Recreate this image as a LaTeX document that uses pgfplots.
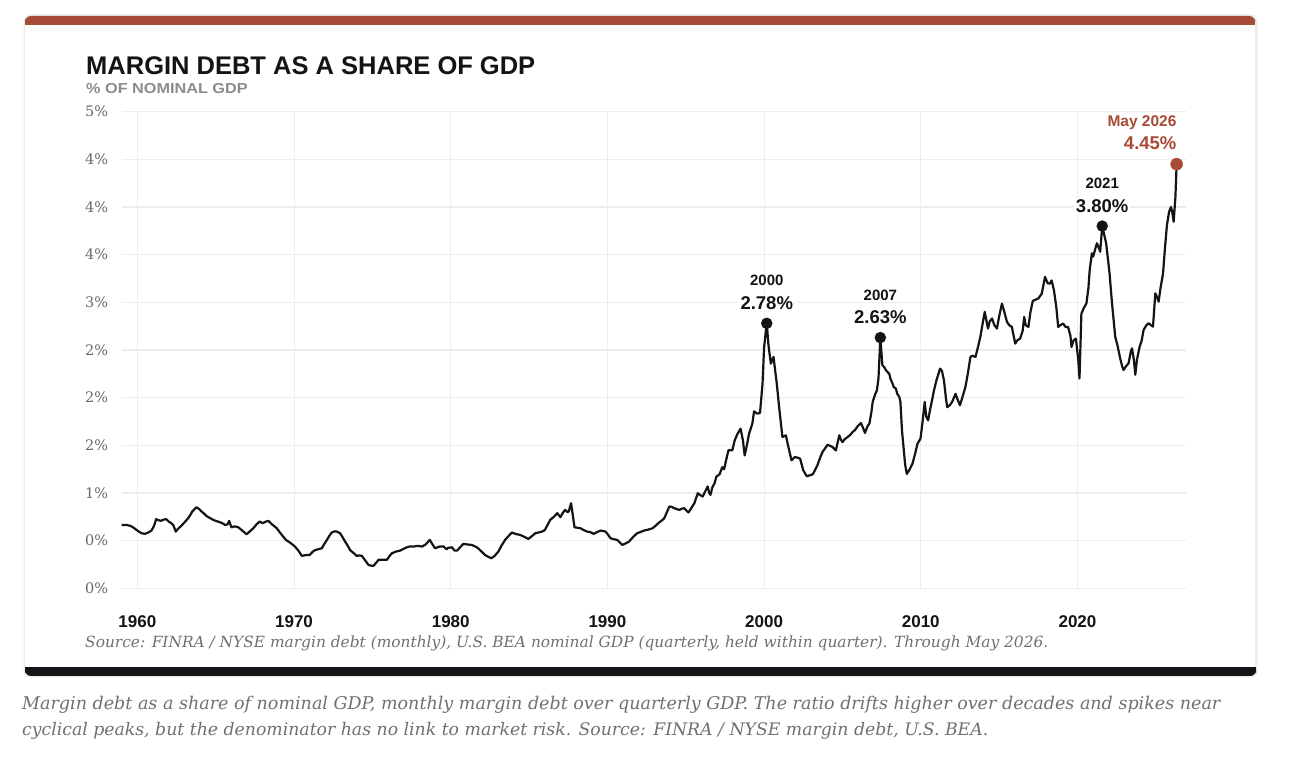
\documentclass[border=0pt]{standalone}
\usepackage{fontspec}
\usepackage{graphicx}
\usepackage{pgfplots}
\pgfplotsset{compat=1.18}
\setmainfont{Liberation Sans}
\newfontfamily\seriffont{DejaVu Serif}

\definecolor{rust}{HTML}{A84B36}
\definecolor{ink}{HTML}{141414}
\definecolor{gridc}{HTML}{EDEDED}
\definecolor{tickc}{HTML}{6A6A6A}
\definecolor{subc}{HTML}{8C8C8C}
\definecolor{capc}{HTML}{707070}
\definecolor{bandc}{HTML}{121418}

\begin{document}
\begin{tikzpicture}[x=1pt,y=1pt]
% page and card
\fill[white] (0,0) rectangle (1300,768);
\fill[black!7, rounded corners=7pt] (23.5,90.5) rectangle (1257.5,753.5);
\fill[white] (25,100) rectangle (1255,745);
\fill[rust, rounded corners=6pt] (25,743) rectangle (1255,752);
\fill[rust] (25,743) rectangle (1255,747);
\fill[bandc, rounded corners=6pt] (25,92) rectangle (1256,100.5);
\fill[bandc] (25,96) rectangle (1256,100.5);

% headings
\node[anchor=base west, inner sep=0, font=\bfseries\fontsize{25.5}{25.5}\selectfont, text=ink] at (86,693.5) {MARGIN DEBT AS A SHARE OF GDP};
\node[anchor=base west, inner sep=0, font=\bfseries\fontsize{14.5}{14.5}\selectfont, text=subc] at (86,674.5) {\scalebox{1.12}[1]{\% OF NOMINAL GDP}};

\begin{axis}[
  at={(121.7pt,179.7pt)}, anchor=south west,
  width=1064.3pt, height=476.6pt, scale only axis,
  xmin=1959, xmax=2026.93, ymin=0, ymax=5,
  axis line style={draw=none}, tick style={draw=none},
  xtick={1960,1970,1980,1990,2000,2010,2020},
  xticklabels={1960,1970,1980,1990,2000,2010,2020},
  ytick={0,0.5,1,1.5,2,2.5,3,3.5,4,4.5,5},
  yticklabels={0\%,0\%,1\%,2\%,2\%,2\%,3\%,4\%,4\%,4\%,5\%},
  xmajorgrids, ymajorgrids,
  major grid style={draw=gridc, line width=1.1pt},
  xticklabel style={anchor=base, yshift=-39.7pt, font=\bfseries\fontsize{17}{17}\selectfont, text=ink},
  yticklabel style={anchor=east, xshift=-10pt, font=\seriffont\fontsize{14.5}{14.5}\selectfont, text=tickc},
  clip=false,
]
% margin debt / nominal GDP, percent
\addplot[ink, line width=2.2pt, line join=round] coordinates {
(1959.00,0.665) (1959.30,0.665) (1959.55,0.655) (1959.72,0.640) (1960.00,0.606)
(1960.26,0.578) (1960.47,0.571) (1960.70,0.585) (1960.90,0.606) (1961.05,0.650)
(1961.20,0.725) (1961.35,0.715) (1961.50,0.707) (1961.65,0.720) (1961.85,0.725)
(1962.00,0.700) (1962.17,0.683) (1962.30,0.660) (1962.45,0.595) (1962.60,0.625)
(1962.80,0.655) (1963.00,0.690) (1963.24,0.735) (1963.40,0.775) (1963.50,0.805)
(1963.77,0.851) (1963.95,0.830) (1964.10,0.805) (1964.25,0.785) (1964.40,0.760)
(1964.60,0.740) (1964.84,0.718) (1965.05,0.705) (1965.27,0.693) (1965.45,0.680)
(1965.60,0.665) (1965.75,0.670) (1965.86,0.707) (1966.00,0.640) (1966.20,0.650)
(1966.44,0.640) (1966.70,0.605) (1966.97,0.567) (1967.20,0.600) (1967.40,0.630)
(1967.60,0.670) (1967.80,0.700) (1968.00,0.683) (1968.20,0.700) (1968.36,0.707)
(1968.60,0.670) (1968.90,0.630) (1969.10,0.585) (1969.30,0.543) (1969.50,0.505)
(1969.74,0.480) (1970.06,0.438) (1970.30,0.390) (1970.50,0.340) (1970.65,0.345)
(1970.80,0.350) (1971.00,0.350) (1971.20,0.385) (1971.34,0.400) (1971.55,0.410)
(1971.77,0.420) (1971.95,0.470) (1972.10,0.508) (1972.25,0.550) (1972.40,0.585)
(1972.60,0.598) (1972.73,0.595) (1972.94,0.578) (1973.10,0.535) (1973.26,0.490)
(1973.45,0.440) (1973.58,0.400) (1973.80,0.370) (1974.00,0.340) (1974.15,0.345)
(1974.33,0.340) (1974.55,0.290) (1974.75,0.245) (1974.90,0.238) (1975.07,0.235)
(1975.25,0.270) (1975.40,0.300) (1975.65,0.300) (1975.93,0.300) (1976.10,0.340)
(1976.25,0.368) (1976.50,0.385) (1976.78,0.396) (1977.00,0.415) (1977.20,0.430)
(1977.40,0.440) (1977.63,0.438) (1977.90,0.445) (1978.17,0.438) (1978.40,0.460)
(1978.66,0.508) (1978.80,0.470) (1979.00,0.420) (1979.30,0.438) (1979.55,0.438)
(1979.72,0.410) (1979.85,0.425) (1980.08,0.430) (1980.25,0.395) (1980.40,0.395)
(1980.60,0.430) (1980.80,0.466) (1981.05,0.460) (1981.33,0.455) (1981.55,0.440)
(1981.75,0.420) (1982.00,0.380) (1982.18,0.350) (1982.40,0.330) (1982.60,0.315)
(1982.80,0.340) (1983.04,0.385) (1983.25,0.450) (1983.47,0.508) (1983.70,0.550)
(1983.90,0.585) (1984.15,0.570) (1984.43,0.560) (1984.70,0.540) (1984.96,0.518)
(1985.20,0.550) (1985.40,0.578) (1985.60,0.585) (1985.82,0.595) (1986.00,0.610)
(1986.10,0.640) (1986.35,0.718) (1986.55,0.745) (1986.80,0.788) (1987.00,0.746)
(1987.15,0.790) (1987.30,0.823) (1987.45,0.800) (1987.53,0.805) (1987.68,0.893)
(1987.78,0.780) (1987.90,0.640) (1988.10,0.635) (1988.28,0.630) (1988.50,0.610)
(1988.70,0.595) (1988.90,0.590) (1989.13,0.571) (1989.35,0.590) (1989.56,0.606)
(1989.75,0.600) (1989.88,0.595) (1990.05,0.560) (1990.20,0.525) (1990.40,0.515)
(1990.63,0.508) (1990.80,0.480) (1990.95,0.455) (1991.15,0.470) (1991.38,0.490)
(1991.65,0.540) (1991.90,0.578) (1992.10,0.590) (1992.34,0.606) (1992.60,0.615)
(1992.88,0.630) (1993.10,0.660) (1993.30,0.690) (1993.50,0.715) (1993.63,0.735)
(1993.80,0.800) (1993.95,0.858) (1994.10,0.855) (1994.27,0.840) (1994.45,0.830)
(1994.59,0.823) (1994.75,0.835) (1994.90,0.840) (1995.05,0.815) (1995.17,0.795)
(1995.35,0.840) (1995.55,0.893) (1995.77,0.998) (1995.90,0.980) (1996.08,0.963)
(1996.25,1.020) (1996.40,1.068) (1996.50,1.000) (1996.58,0.980) (1996.70,1.060)
(1996.84,1.103) (1996.95,1.170) (1997.16,1.197) (1997.33,1.270) (1997.45,1.250)
(1997.58,1.348) (1997.73,1.450) (1997.97,1.447) (1998.12,1.550) (1998.30,1.620)
(1998.50,1.675) (1998.65,1.550) (1998.76,1.394) (1998.90,1.500) (1999.04,1.622)
(1999.25,1.727) (1999.36,1.856) (1999.57,1.832) (1999.74,1.840) (1999.90,2.147)
(2000.00,2.530) (2000.17,2.780) (2000.28,2.550) (2000.43,2.357) (2000.60,2.427)
(2000.81,2.147) (2000.96,1.900) (2001.17,1.587) (2001.39,1.605) (2001.50,1.520)
(2001.60,1.447) (2001.75,1.342) (2001.96,1.377) (2002.15,1.370) (2002.30,1.360)
(2002.50,1.237) (2002.73,1.174) (2002.90,1.185) (2003.10,1.195) (2003.25,1.240)
(2003.40,1.290) (2003.60,1.380) (2003.73,1.430) (2004.05,1.506) (2004.20,1.495)
(2004.37,1.482) (2004.58,1.447) (2004.80,1.605) (2004.90,1.560) (2005.00,1.534)
(2005.15,1.565) (2005.33,1.587) (2005.50,1.610) (2005.65,1.640) (2005.80,1.660)
(2005.97,1.700) (2006.18,1.734) (2006.30,1.690) (2006.44,1.630) (2006.60,1.700)
(2006.72,1.727) (2006.85,1.850) (2006.93,1.955) (2007.10,2.040) (2007.20,2.077)
(2007.30,2.200) (2007.42,2.630) (2007.55,2.340) (2007.67,2.320) (2007.78,2.287)
(2007.99,2.250) (2008.06,2.200) (2008.20,2.147) (2008.27,2.112) (2008.41,2.095)
(2008.50,2.040) (2008.63,2.007) (2008.70,1.955) (2008.80,1.657) (2008.90,1.480)
(2009.00,1.300) (2009.11,1.200) (2009.30,1.250) (2009.47,1.307) (2009.65,1.420)
(2009.79,1.517) (2009.98,1.570) (2010.10,1.727) (2010.25,1.955) (2010.35,1.800)
(2010.47,1.762) (2010.60,1.880) (2010.74,1.990) (2010.85,2.080) (2011.00,2.182)
(2011.23,2.305) (2011.35,2.280) (2011.48,2.182) (2011.60,2.000) (2011.69,1.900)
(2011.85,1.920) (2012.00,1.955) (2012.22,2.040) (2012.35,1.980) (2012.50,1.920)
(2012.65,2.000) (2012.85,2.112) (2013.00,2.250) (2013.17,2.427) (2013.30,2.440)
(2013.49,2.427) (2013.65,2.530) (2013.80,2.637) (2013.95,2.780) (2014.08,2.900)
(2014.20,2.800) (2014.29,2.725) (2014.40,2.800) (2014.55,2.830) (2014.70,2.760)
(2014.86,2.725) (2015.00,2.850) (2015.18,2.987) (2015.30,2.920) (2015.50,2.795)
(2015.65,2.760) (2015.81,2.742) (2016.03,2.567) (2016.15,2.600) (2016.34,2.620)
(2016.50,2.700) (2016.60,2.847) (2016.70,2.760) (2016.87,2.742) (2017.00,2.900)
(2017.15,3.015) (2017.35,3.030) (2017.50,3.040) (2017.72,3.090) (2017.93,3.267)
(2018.10,3.200) (2018.25,3.197) (2018.35,3.230) (2018.50,3.127) (2018.65,2.950)
(2018.77,2.742) (2018.90,2.760) (2019.09,2.777) (2019.25,2.740) (2019.40,2.742)
(2019.55,2.650) (2019.62,2.532) (2019.75,2.600) (2019.90,2.620) (2020.05,2.400)
(2020.13,2.200) (2020.25,2.880) (2020.40,2.940) (2020.57,2.987) (2020.70,3.150)
(2020.78,3.337) (2020.92,3.514) (2021.00,3.480) (2021.24,3.620) (2021.35,3.580)
(2021.45,3.530) (2021.58,3.800) (2021.72,3.700) (2021.83,3.620) (2021.95,3.450)
(2022.05,3.300) (2022.20,3.000) (2022.41,2.640) (2022.55,2.550) (2022.73,2.410)
(2022.85,2.330) (2022.94,2.290) (2023.10,2.330) (2023.26,2.360) (2023.40,2.480)
(2023.48,2.517) (2023.60,2.400) (2023.69,2.240) (2023.80,2.400) (2023.97,2.535)
(2024.10,2.600) (2024.22,2.710) (2024.40,2.760) (2024.54,2.780) (2024.70,2.760)
(2024.82,2.745) (2024.97,3.094) (2025.10,3.050) (2025.18,3.007) (2025.30,3.150)
(2025.46,3.300) (2025.60,3.600) (2025.71,3.810) (2025.85,3.950) (2025.97,4.000)
(2026.05,3.950) (2026.14,3.846) (2026.25,4.100) (2026.33,4.450)
};
% highlighted cycle peaks and latest reading
\addplot[only marks, mark=*, mark size=5.5pt, ink] coordinates {(2000.17,2.78) (2007.42,2.63) (2021.58,3.80)};
\addplot[only marks, mark=*, mark size=6pt, rust] coordinates {(2026.33,4.45)};

\node[anchor=base, fill=white, inner sep=1.5pt, yshift=37.5pt, text=ink, font=\bfseries\fontsize{15}{15}\selectfont] at (axis cs:2000.17,2.78) {2000};
\node[anchor=base, fill=white, inner sep=1.5pt, yshift=14pt, text=ink, font=\bfseries\fontsize{18.5}{18.5}\selectfont] at (axis cs:2000.17,2.78) {2.78\%};
\node[anchor=base, fill=white, inner sep=1.5pt, yshift=37.5pt, text=ink, font=\bfseries\fontsize{15}{15}\selectfont] at (axis cs:2007.42,2.63) {2007};
\node[anchor=base, fill=white, inner sep=1.5pt, yshift=14pt, text=ink, font=\bfseries\fontsize{18.5}{18.5}\selectfont] at (axis cs:2007.42,2.63) {2.63\%};
\node[anchor=base, fill=white, inner sep=1.5pt, yshift=37.5pt, text=ink, font=\bfseries\fontsize{15}{15}\selectfont] at (axis cs:2021.58,3.80) {2021};
\node[anchor=base, fill=white, inner sep=1.5pt, yshift=14pt, text=ink, font=\bfseries\fontsize{18.5}{18.5}\selectfont] at (axis cs:2021.58,3.80) {3.80\%};
\node[anchor=base east, fill=white, inner sep=1.5pt, yshift=37.5pt, xshift=1.5pt, text=rust, font=\bfseries\fontsize{15.5}{15.5}\selectfont] at (axis cs:2026.33,4.45) {May 2026};
\node[anchor=base east, fill=white, inner sep=1.5pt, yshift=14.5pt, xshift=1.5pt, text=rust, font=\bfseries\fontsize{18.5}{18.5}\selectfont] at (axis cs:2026.33,4.45) {4.45\%};
\end{axis}

% source line and caption
\node[anchor=base west, inner sep=0, text=capc] at (85,120) {\resizebox{963pt}{!}{\seriffont\itshape Source: FINRA / NYSE margin debt (monthly), U.S. BEA nominal GDP (quarterly, held within quarter). Through May 2026.}};
\node[anchor=base west, inner sep=0, text=capc] at (22,59) {\resizebox{1198pt}{!}{\seriffont\itshape Margin debt as a share of nominal GDP, monthly margin debt over quarterly GDP. The ratio drifts higher over decades and spikes near}};
\node[anchor=base west, inner sep=0, text=capc] at (22,33) {\resizebox{966pt}{!}{\seriffont\itshape cyclical peaks, but the denominator has no link to market risk. Source: FINRA / NYSE margin debt, U.S. BEA.}};
\end{tikzpicture}
\end{document}
